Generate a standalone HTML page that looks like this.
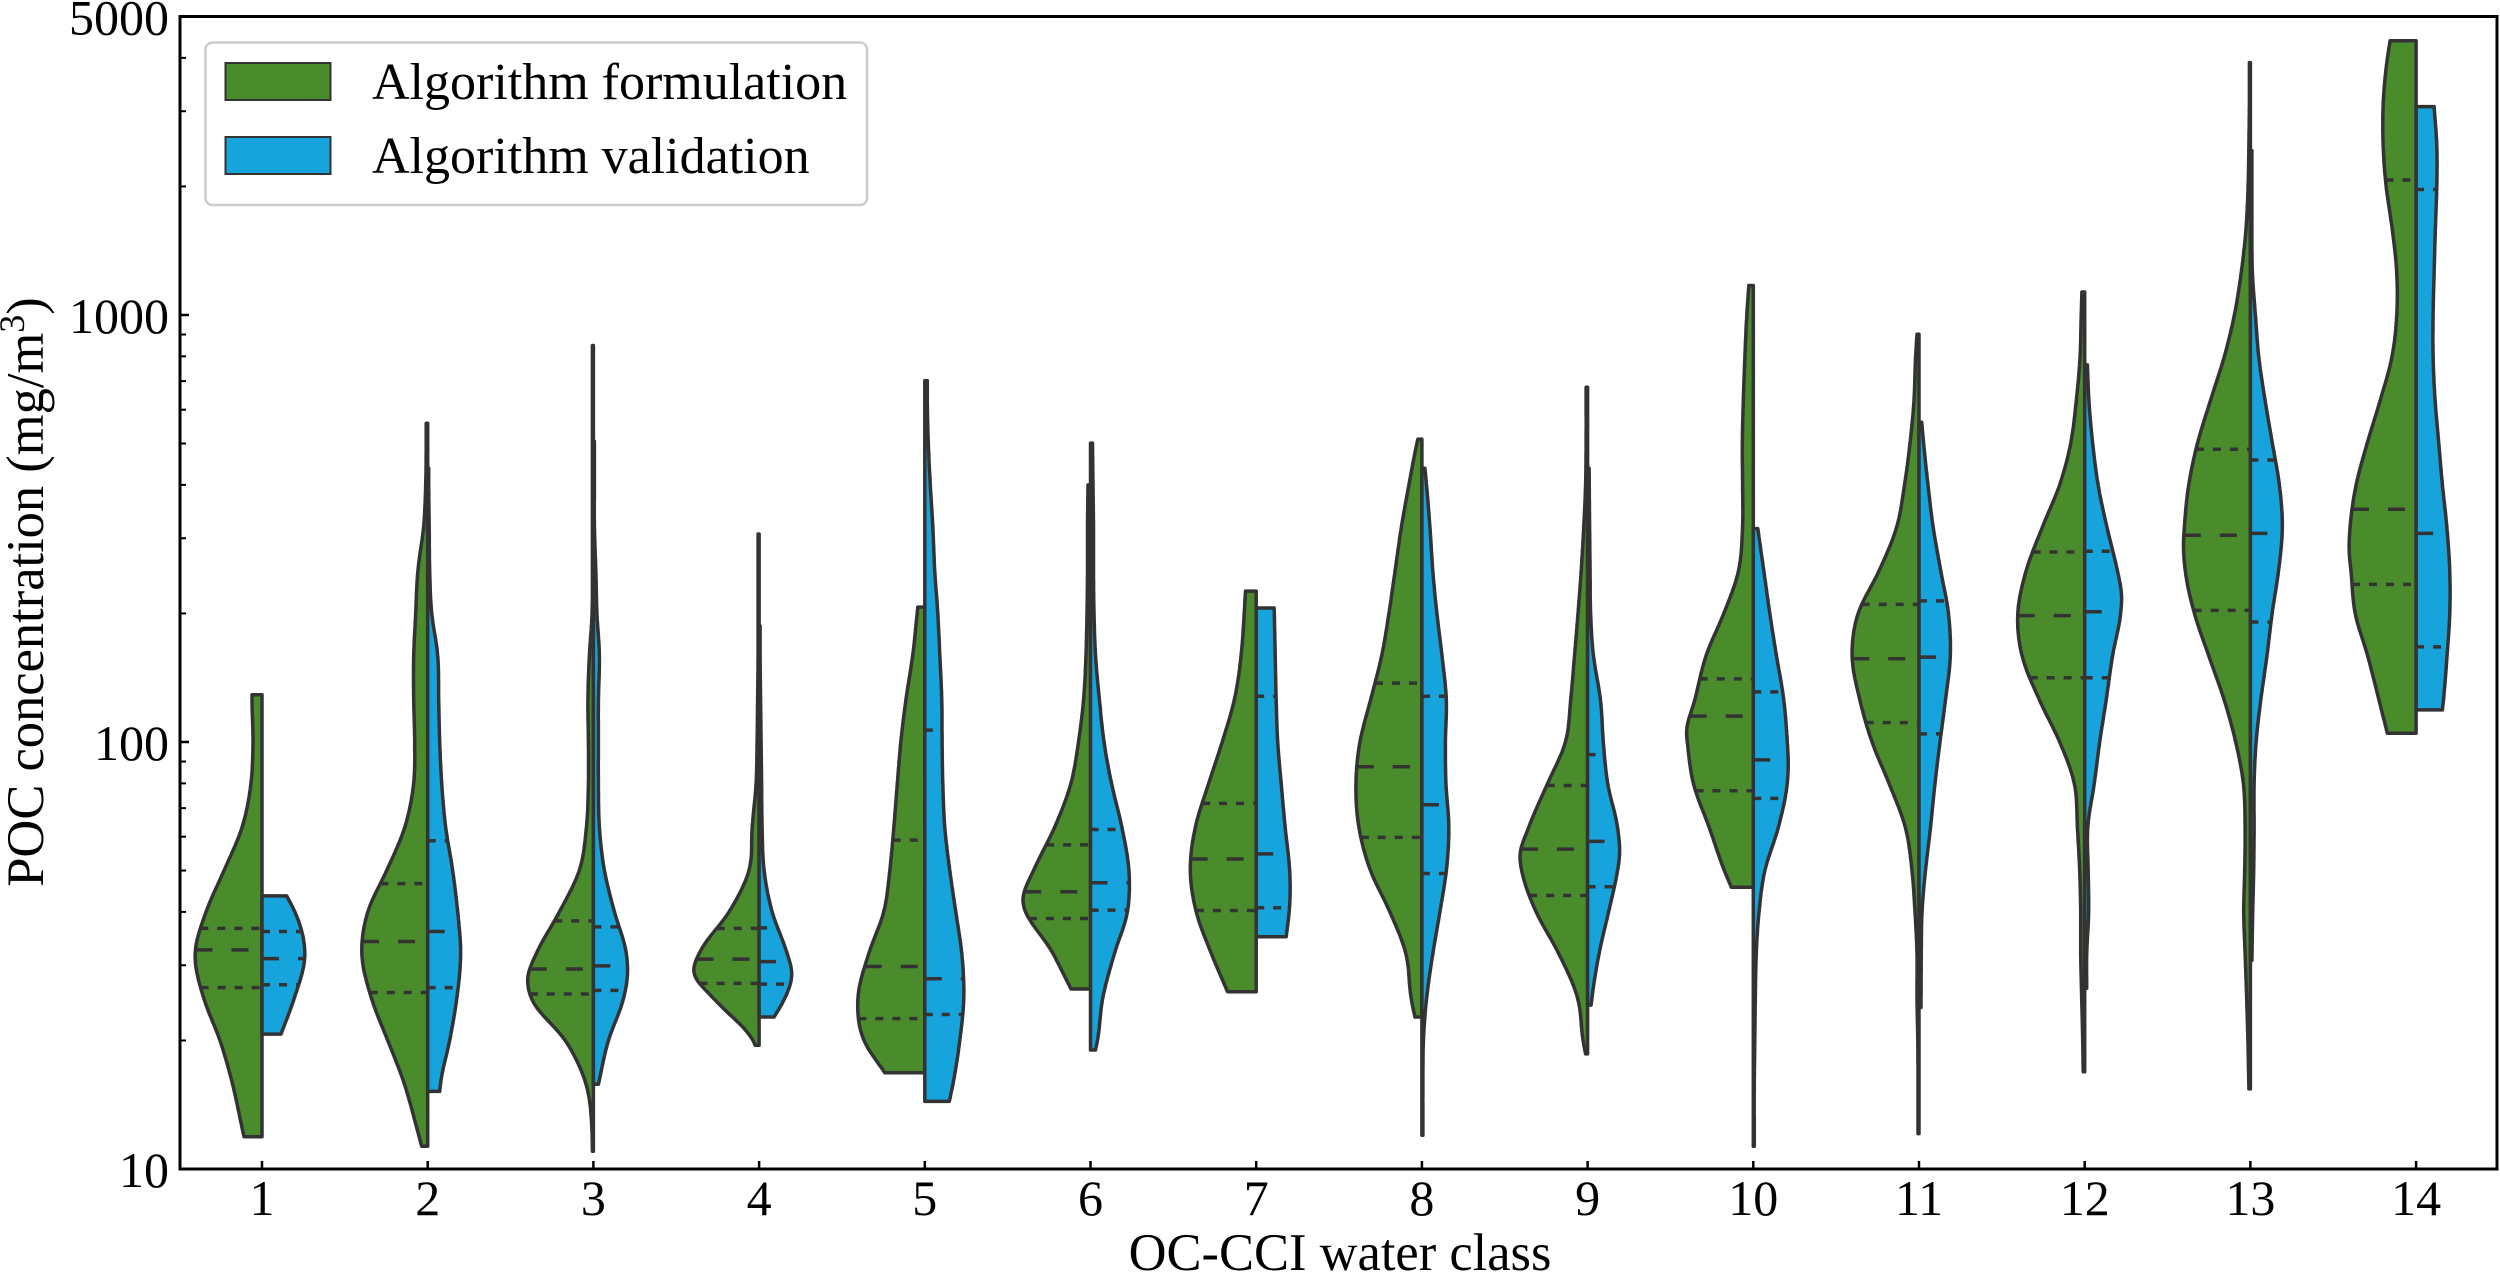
<!DOCTYPE html>
<html lang="en">
<head>
<meta charset="utf-8">
<title>POC concentration by OC-CCI water class</title>
<style>
html,body{margin:0;padding:0;background:#fff;}
svg{display:block;}
text{font-family:"Liberation Serif","DejaVu Serif",serif;fill:#000;}
</style>
</head>
<body>
<svg id="chart" xmlns="http://www.w3.org/2000/svg" width="2500" height="1273" viewBox="0 0 2500 1273">
  <rect x="0" y="0" width="2500" height="1273" fill="#ffffff"/>
  <g id="violins"></g>
  <g id="ticks"></g>
  <rect x="180" y="16.5" width="2317" height="1152.5" fill="none" stroke="#000" stroke-width="3"/>
  <text x="1340" y="1270" font-size="52.5" text-anchor="middle">OC-CCI water class</text>
  <text transform="translate(43,592) rotate(-90)" font-size="52.5" text-anchor="middle">POC concentration (mg/m<tspan font-size="36" dy="-19">3</tspan><tspan dy="19">)</tspan></text>
  <g>
    <rect x="205.5" y="42.5" width="661.5" height="162.5" rx="7" ry="7" fill="#ffffff" fill-opacity="0.8" stroke="#cccccc" stroke-width="2.5"/>
    <rect x="225.5" y="63" width="105" height="37" fill="#4a8b2c" stroke="#333333" stroke-width="2"/>
    <text x="372" y="99" font-size="52">Algorithm formulation</text>
    <rect x="225.5" y="137" width="105" height="37" fill="#17a3dc" stroke="#333333" stroke-width="2"/>
    <text x="372" y="173" font-size="52">Algorithm validation</text>
  </g>
</svg>
<script>
const classes = [1,2,3,4,5,6,7,8,9,10,11,12,13,14];
const yMajorTicks = [10,100,1000,5000];
const yMinorTicks = [20,30,40,50,60,70,80,90,200,300,400,500,600,700,800,900,2000,3000,4000];

/* Quartiles for each class, in mg/m3 */
const formQ1     = [26.6,25.9,25.7,27.2,22.5,38.6,40.3,59.8,43.7,76.9,111,141.4,203.4,233.9];
const formMedian = [32.6,34.1,29.4,31,29.8,44.6,53.2,87.5,56.1,115,156.7,197.6,304.8,350.8];
const formQ3     = [36.6,46.6,38.1,36.6,58.9,57.4,71.8,137.4,79.1,140.5,210,278.6,484.8,2070];
const valQ1      = [27,26.6,26.2,27.1,23,40.4,40.9,49.2,45.8,73.8,104.5,141.4,191,167];
const valMedian  = [31.1,36,29.9,30.6,27.9,46.8,54.7,71.3,58.5,90.8,158,201.8,308,308];
const valQ3      = [36,58.7,36.9,36.7,106.6,62.4,128,128,93.4,131,214,279.6,457.5,1967];

/* Density profiles: POC level (mg/m3) and density read at that level */
const formPoc1 = [11.9,12.5,16,20,25,32,40,50,63,80,100,125,129];
const formDen1 = [18,20,30,42,58,67,56,38,20,11,9,10,10];
const valPoc1  = [20.7,25,32,40,43.6];
const valDen1  = [19,32,43,33,24.7];
const formPoc2 = [11.3,12.5,16,20,25,32,40,50,63,80,100,125,160,200,250,320,400,500,558];
const formDen2 = [6,11,24,40,56,66,60,41,23,14,13,14,14,12,10,4,2,1.5,1.5];
const valPoc2  = [15.2,16,20,25,32,40,50,63,80,100,125,160,200,250,320,400,438];
const valDen2  = [12,13,22,29,33,30,25,18,14,12,11,10,4,2,1.5,1,1];
const formPoc3 = [11,12.5,16,20,25,28,32,40,50,63,80,100,125,160,200,250,320,400,500,630,848];
const formDen3 = [1,1.5,8,28,62,66,57,34,14,7,5,5,5.5,4,1.3,1,1,1,1,1,1];
const valPoc3  = [15.8,20,25,28,32,40,50,63,80,100,125,160,200,250,320,400,506];
const valDen3  = [5,15,30,34,33,21,11,6,5,5,5,6,3.5,2.5,1,1,1];
const formPoc4 = [19.5,20,25,28.8,32,40,50,63,80,100,125,160,200,250,307];
const formDen4 = [4,6,45,66,60,30,10,7,3,2,1.5,1,1,1,1];
const valPoc4  = [22.7,25,28.8,32,40,50,63,80,100,125,160,187];
const valDen4  = [15,25.5,33,28,13,5,3,2.5,2,1.5,1,1];
const formPoc5 = [16.8,20,25,32,40,50,63,80,100,125,160,207];
const formDen5 = [40,61,67,56,41,35,31,27.5,24,19,12,7];
const valPoc5  = [14.4,16,20,25,32,40,50,63,80,100,125,160,200,250,320,400,500,630,702];
const valDen5  = [24.5,28.6,35,39,37,31,25,20,18,17.3,17,15,13,10,8,5.5,3.5,2.5,2.5];
const formPoc6 = [26.4,32,43,50,63,80,100,125,160,200,250,320,400];
const formDen6 = [19.5,37.5,68,57,36,19.5,12,7,4.5,3.5,3,3,2.5];
const valPoc6  = [19,20,25,32,40,46,50,63,80,100,125,160,200,250,320,400,501];
const valDen6  = [5,7,12,24,37,39,38.5,31.5,21,13.5,9,5,3.5,3,3,2.5,2];
const formPoc7 = [26,32,40,50,63,80,100,125,160,200,225.6];
const formDen7 = [28.6,45,60,66,61,47.5,34,22,15,12,10.7];
const valPoc7  = [35,40,46,50,63,80,100,125,160,206];
const valDen7  = [30,33,34,33.5,29,25,21.5,20,19,18];
const formPoc8 = [22.7,25,32,40,50,63,80,100,125,160,200,250,320,400,500,512];
const formDen8 = [7,10.7,16,32,51.5,63,66,62,51.5,40,33,27,20.4,13,5,4];
const valPoc8  = [12,16,20,25,32,40,50,63,80,100,125,160,200,250,320,400,437.6];
const valDen8  = [1,1,1.5,4.6,11,18,24.5,27,24,23.5,24.5,20,15,11,8,4.6,3];
const formPoc9 = [18.6,20,25,32,40,50,54,63,80,100,125,160,200,250,320,400,500,677];
const formDen9 = [2,4.6,9.6,29,51.5,66,68,59,40,22,17,13,9.6,6.5,3.8,2,1.5,1.5];
const valPoc9  = [24.2,25,32,40,50,54,63,80,100,125,160,200,250,320,438];
const valDen9  = [3.5,4.2,11.5,21,30,32,30,20,15.7,13,5.7,3,2.5,2,1.5];
const formPoc10 = [45.7,50,63,80,100,105,125,160,200,250,320,400,500,630,800,1000,1172];
const formDen10 = [22,29,44,60,66,67,58.6,47,29.5,15,10.7,10.7,11,10,8.4,6.5,4.5];
const valPoc10  = [11.3,16,20,25,32,40,50,63,80,90,100,125,160,200,250,316];
const valDen10  = [1,1,1.5,2,3,5.7,11.5,25,34,35,34,30.6,23,16.5,10.7,4.5];
const formPoc11 = [12.1,16,20,25,32,40,50,63,80,100,125,160,200,250,320,400,500,630,800,901];
const formDen11 = [1,1,1.2,2,2,4,7,13.5,30,47,59,67,61,40.5,22,14.5,9,5,3.4,2];
const valPoc11  = [23.9,32,40,50,63,80,100,125,160,200,250,320,400,500,561];
const valDen11  = [2,2.3,3,6.5,11.5,16,21,26.4,31.4,29.5,22,14,9,4.6,2.7];
const formPoc12 = [16.9,20,25,32,40,50,63,80,100,125,160,200,250,320,400,500,630,800,1000,1132];
const formDen12 = [1.5,2,3,4,4,5,7.3,10.3,25,45,63,67,59,42,25,14,8.4,4.6,3.5,2.8];
const valPoc12  = [26.5,32,40,50,63,80,100,125,160,200,221,250,320,400,500,630,764];
const valDen12  = [2,2,4,3.5,3,9.6,15,21.4,28,36,37,33,22,13.4,8,4.2,2.7];
const formPoc13 = [15.4,20,25,32,40,50,63,80,100,125,160,200,250,290,320,400,500,630,800,1000,1250,1600,2000,2500,3200,3899];
const formDen13 = [1.5,2.5,3.7,5.3,6.7,5.7,5.3,7,14.7,26,42,56,65,67,66,61.7,53,40,26,16,9.3,4.3,2.3,1.5,1,1];
const valPoc13  = [30.8,40,50,63,80,100,125,160,200,250,320,400,500,630,800,1000,1250,1600,2000,2426];
const valDen13  = [1.5,2.3,3.3,3.7,3.7,5.7,10.3,16.7,21.7,28,32,29,22,14.7,8.3,5,2,1.5,1.5,1.5];
const formPoc14 = [104.8,125,160,200,250,280,320,400,500,630,800,1000,1250,1600,2000,2500,3200,4000,4385];
const formDen14 = [28.7,37,48.7,61,65,67,66,60,49,36,24,19.3,19.3,24,30,33,32.7,28.7,26];
const valPoc14  = [118.9,125,160,200,250,320,400,500,630,800,1000,1250,1600,2000,2500,3076];
const valDen14  = [26.3,27.3,31,33.7,33.7,30.7,26.3,22.7,19,17,17,18,19.3,20.7,20.7,18];

const formPocs = [formPoc1,formPoc2,formPoc3,formPoc4,formPoc5,formPoc6,formPoc7,formPoc8,formPoc9,formPoc10,formPoc11,formPoc12,formPoc13,formPoc14];
const formDens = [formDen1,formDen2,formDen3,formDen4,formDen5,formDen6,formDen7,formDen8,formDen9,formDen10,formDen11,formDen12,formDen13,formDen14];
const valPocs  = [valPoc1,valPoc2,valPoc3,valPoc4,valPoc5,valPoc6,valPoc7,valPoc8,valPoc9,valPoc10,valPoc11,valPoc12,valPoc13,valPoc14];
const valDens  = [valDen1,valDen2,valDen3,valDen4,valDen5,valDen6,valDen7,valDen8,valDen9,valDen10,valDen11,valDen12,valDen13,valDen14];

const SVG_NS = 'http://www.w3.org/2000/svg';
const plot = {left:180, right:2497, top:16.5, bottom:1169};
const densityScale = 1;
const smoothSpan = 0.024;
const INK = '#333333';
const GREEN = '#4a8b2c';
const BLUE = '#17a3dc';

function xScale(c){
  return 262 + (c - classes[0]) * (2416.1 - 262) / (classes[classes.length - 1] - classes[0]);
}
function yScale(poc){
  const lo = Math.log10(yMajorTicks[0]);
  const hi = Math.log10(yMajorTicks[yMajorTicks.length - 1]);
  return plot.bottom - (Math.log10(poc) - lo) / (hi - lo) * (plot.bottom - plot.top);
}
function make(tag, attrs){
  const el = document.createElementNS(SVG_NS, tag);
  for (const k in attrs) el.setAttribute(k, attrs[k]);
  return el;
}
function tangents(t, d){
  const n = t.length, s = [], m = [];
  for (let i = 0; i < n - 1; i++) s.push((d[i+1] - d[i]) / (t[i+1] - t[i]));
  for (let i = 0; i < n; i++){
    if (i === 0) m.push(s[0]);
    else if (i === n - 1) m.push(s[n-2]);
    else {
      const h0 = t[i] - t[i-1], h1 = t[i+1] - t[i];
      m.push((s[i-1] * h1 + s[i] * h0) / (h0 + h1));
    }
  }
  return m;
}
function rawDensity(t, d, m, v){
  let i = 0;
  while (i < t.length - 2 && v > t[i+1]) i++;
  const h = t[i+1] - t[i];
  const u = Math.min(1, Math.max(0, (v - t[i]) / h));
  const u2 = u * u, u3 = u2 * u;
  return (2*u3 - 3*u2 + 1) * d[i] + (u3 - 2*u2 + u) * h * m[i] + (-2*u3 + 3*u2) * d[i+1] + (u3 - u2) * h * m[i+1];
}
function densityAt(pocs, dens, poc){
  const t = pocs.map(Math.log10);
  const m = tangents(t, dens);
  const v = Math.log10(poc);
  const lo = t[0], hi = t[t.length - 1];
  const span = Math.min(smoothSpan, v - lo, hi - v);
  let sum = 0, weight = 0;
  for (let k = -4; k <= 4; k++){
    const w = 5 - Math.abs(k);
    sum += w * rawDensity(t, dens, m, v + span * k / 4);
    weight += w;
  }
  return Math.max(0.6, sum / weight);
}
function halfPath(c, pocs, dens, side){
  const cx = xScale(c);
  const lo = pocs[0], hi = pocs[pocs.length - 1];
  const yLo = yScale(lo), yHi = yScale(hi);
  const n = Math.max(8, Math.round((yLo - yHi) / 2));
  let d = 'M' + cx.toFixed(1) + ' ' + yLo.toFixed(1);
  for (let i = 0; i <= n; i++){
    const p = Math.pow(10, Math.log10(lo) + (Math.log10(hi) - Math.log10(lo)) * i / n);
    const w = densityAt(pocs, dens, p) * densityScale;
    d += 'L' + (cx + side * w).toFixed(1) + ' ' + yScale(p).toFixed(1);
  }
  d += 'L' + cx.toFixed(1) + ' ' + yHi.toFixed(1) + 'Z';
  return d;
}
function quartileLine(c, pocs, dens, side, poc, dash){
  const cx = xScale(c);
  const w = densityAt(pocs, dens, poc) * densityScale;
  const y = yScale(poc);
  return make('line', {
    x1: side < 0 ? cx - w : cx, x2: side < 0 ? cx : cx + w, y1: y, y2: y,
    stroke: INK, 'stroke-width': 3.5, 'stroke-dasharray': dash
  });
}

const violinLayer = document.getElementById('violins');
classes.forEach(function(c, i){
  const group = make('g', {});
  
  

  const formPath = make('path', {d: halfPath(c, formPocs[i], formDens[i], -1), fill: GREEN, stroke: INK, 'stroke-width': 3.5, 'stroke-linejoin': 'round'});
  
  
  group.appendChild(formPath);

  const valPath = make('path', {d: halfPath(c, valPocs[i], valDens[i], 1), fill: BLUE, stroke: INK, 'stroke-width': 3.5, 'stroke-linejoin': 'round'});
  
  
  group.appendChild(valPath);

  const formLines = [[formQ1[i], '8 9', 'q1'], [formMedian[i], '17 19', 'median'], [formQ3[i], '8 9', 'q3']];
  formLines.forEach(function(q){
    const line = quartileLine(c, formPocs[i], formDens[i], -1, q[0], q[1]);
    
    
    group.appendChild(line);
  });
  const valLines = [[valQ1[i], '8 9', 'q1'], [valMedian[i], '17 19', 'median'], [valQ3[i], '8 9', 'q3']];
  valLines.forEach(function(q){
    const line = quartileLine(c, valPocs[i], valDens[i], 1, q[0], q[1]);
    
    
    group.appendChild(line);
  });
  violinLayer.appendChild(group);
});

const tickLayer = document.getElementById('ticks');
classes.forEach(function(c){
  const x = xScale(c);
  const tick = make('line', {x1: x, x2: x, y1: plot.bottom, y2: plot.bottom - 8, stroke: '#000', 'stroke-width': 2.5});
  
  
  tickLayer.appendChild(tick);
  const label = make('text', {x: x, y: 1215, 'font-size': 50, 'text-anchor': 'middle'});
  
  
  label.textContent = String(c);
  tickLayer.appendChild(label);
});
yMajorTicks.forEach(function(v){
  const y = yScale(v);
  const tick = make('line', {x1: plot.left, x2: plot.left + 9, y1: y, y2: y, stroke: '#000', 'stroke-width': 2.5});
  
  
  tickLayer.appendChild(tick);
  const label = make('text', {x: 169, y: y + 18, 'font-size': 50, 'text-anchor': 'end'});
  
  
  label.textContent = String(v);
  tickLayer.appendChild(label);
});
yMinorTicks.forEach(function(v){
  const y = yScale(v);
  const tick = make('line', {x1: plot.left, x2: plot.left + 6, y1: y, y2: y, stroke: '#000', 'stroke-width': 2});
  
  
  tickLayer.appendChild(tick);
});
</script>
</body>
</html>
